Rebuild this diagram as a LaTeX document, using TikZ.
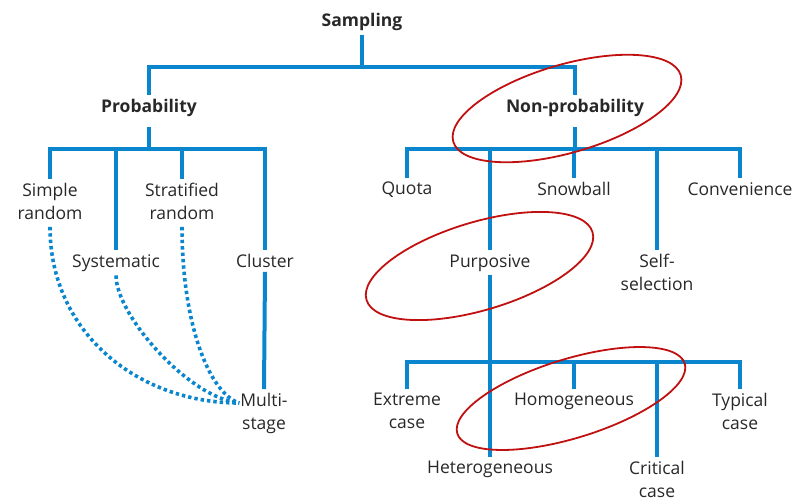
\documentclass[tikz,border=0pt]{standalone}
\usepackage{fontspec}
\setmainfont{Open Sans}
\usetikzlibrary{shapes.geometric,calc}
\definecolor{treeblue}{RGB}{10,134,206}
\definecolor{ringred}{RGB}{192,16,16}
\definecolor{labelgray}{RGB}{40,40,40}
\begin{document}
\begin{tikzpicture}[x=1pt,y=-1pt,
  lbl/.style={anchor=north,inner sep=4pt,align=center,text=labelgray,
    font=\fontsize{17.5}{23}\selectfont},
  head/.style={lbl,font=\fontsize{17.5}{23}\selectfont\bfseries},
  tree/.style={draw=treeblue,line width=4pt},
  dotlink/.style={draw=treeblue,line width=3.6pt,dash pattern=on 3.4pt off 3pt},
  ring/.style={draw=ringred,line width=1.8pt,ellipse,inner sep=0pt}]
\useasboundingbox (0,0) rectangle (797,499);

% labels
\node[head] (samp) at (362,9) {Sampling};
\node[head] (prob) at (149,95) {Probability};
\node[head] (nonprob) at (575,95) {Non-probability};

\node[lbl] (simple) at (50,179) {Simple\\random};
\node[lbl] (strat) at (182,179) {Stratified\\random};
\node[lbl] (syst) at (116,250) {Systematic};
\node[lbl] (clus) at (265,250) {Cluster};
\node[lbl] (multi) at (264,389) {Multi-\\stage};

\node[lbl] (quota) at (407,178) {Quota};
\node[lbl] (snow) at (574,178) {Snowball};
\node[lbl] (conv) at (740,178) {Convenience};
\node[lbl] (purp) at (490,250) {Purposive};
\node[lbl] (self) at (657,250) {Self-\\selection};

\node[lbl] (extreme) at (407,389) {Extreme\\case};
\node[lbl] (homo) at (574,389) {Homogeneous};
\node[lbl] (typical) at (740,389) {Typical\\case};
\node[lbl] (hetero) at (490,457) {Heterogeneous};
\node[lbl] (critical) at (657,457) {Critical\\case};

% branching bars
\coordinate (b0) at (362,67);
\coordinate (b1) at (149,149);
\coordinate (b2) at (575,149);
\coordinate (b3) at (490,362);

\draw[tree] (samp.south) -- (b0);
\draw[tree] (b0) -| (prob.north);
\draw[tree] (b0) -| (nonprob.north);

\draw[tree,shorten <=6pt] (prob.south) -- (b1);
\draw[tree] (b1) -| (simple.north);
\draw[tree] (b1) -| (syst.north);
\draw[tree] (b1) -| (strat.north);
\draw[tree] (b1) -| (clus.north);
\draw[tree] (clus.south) -- (multi.north);

\draw[tree,shorten <=6pt] (nonprob.south) -- (b2);
\draw[tree] (b2) -| (quota.north);
\draw[tree] (b2) -| (purp.north);
\draw[tree] (b2) -| (snow.north);
\draw[tree] (b2) -| (self.north);
\draw[tree] (b2) -| (conv.north);

\draw[tree] (purp.south) -- (b3);
\draw[tree] (b3) -| (extreme.north);
\draw[tree] (b3) -| (hetero.north);
\draw[tree] (b3) -| (homo.north);
\draw[tree] (b3) -| (critical.north);
\draw[tree] (b3) -| (typical.north);

% dotted links into multi-stage
\coordinate (mend) at ($(multi.north west)+(3,14)$);
\draw[dotlink,shorten <=3pt] (simple.south) .. controls +(0,110) and +(-100,0) .. (mend);
\draw[dotlink] (syst.south) .. controls +(0,40) and +(-50,-5) .. (mend);
\draw[dotlink,shorten <=3pt] (strat.south) .. controls +(0,100) and +(-30,-10) .. (mend);

% highlight rings
\node[ring,minimum width=237pt,minimum height=88pt,rotate=16.3] (ring1) at (567,108.5) {};
\node[ring,minimum width=236pt,minimum height=88pt,rotate=16.7] (ring2) at (479.5,266) {};
\node[ring,minimum width=238pt,minimum height=79pt,rotate=17.1] (ring3) at (571,398.5) {};
\end{tikzpicture}
\end{document}
